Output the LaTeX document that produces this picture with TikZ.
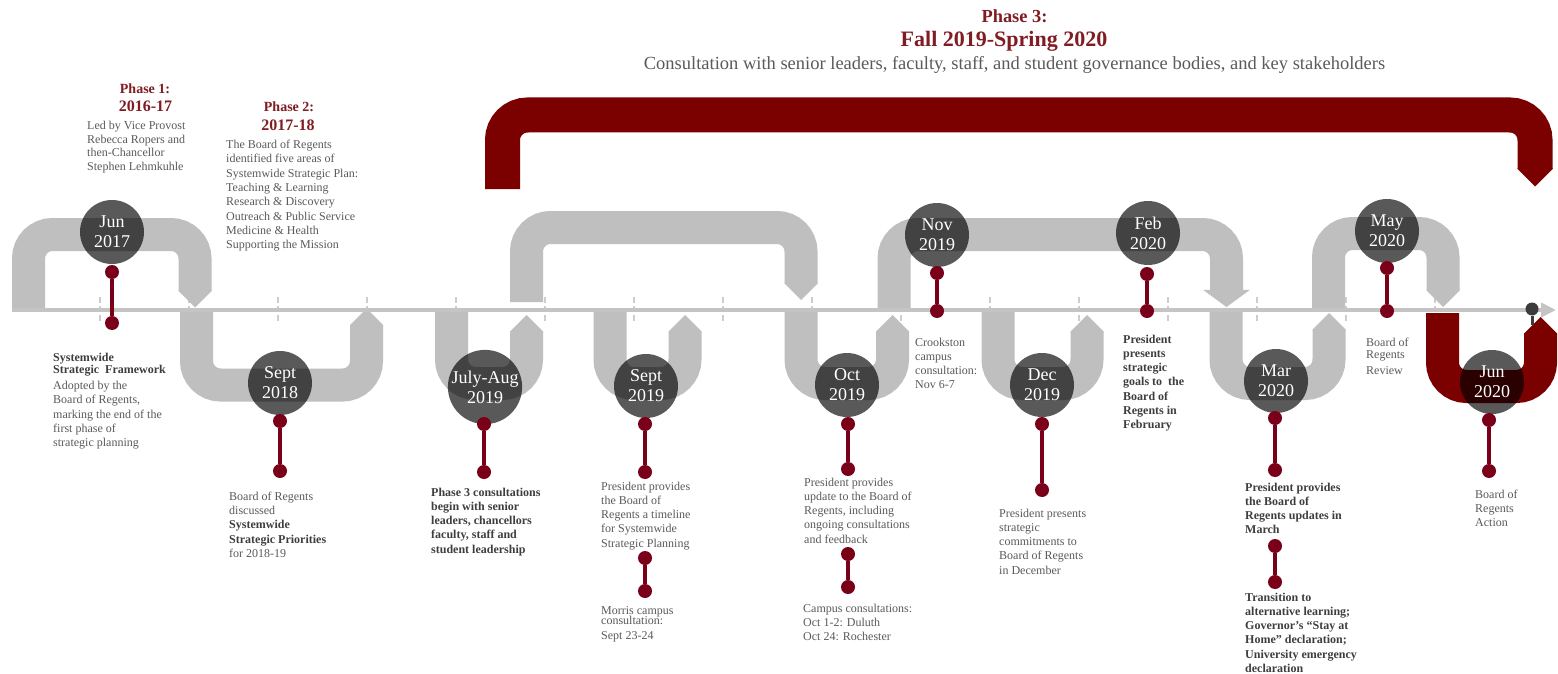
\documentclass[tikz,border=0pt]{standalone}
\usepackage{fontspec}
\setmainfont{Liberation Serif}
\usetikzlibrary{arrows.meta}

\definecolor{bandgray}{HTML}{BFBFBF}
\definecolor{linegray}{HTML}{C4C4C4}
\definecolor{tickgray}{HTML}{CDCDCD}
\definecolor{umnmaroon}{HTML}{7A0019}
\definecolor{bandred}{HTML}{7B0000}
\definecolor{titlered}{HTML}{801C22}
\definecolor{txtgray}{HTML}{5A5A5A}
\definecolor{txtdark}{HTML}{3E3E3E}
\definecolor{enddotgray}{HTML}{3C3C3C}

\newcommand\bodyf{\fontsize{12}{14.3}\selectfont}
\newcommand\datef{\fontsize{18}{20}\selectfont}

% arrow ends of the ribbon arms
\newcommand\chevdown[4]{\fill[#4] (#1-#3,#2-0.8) -- (#1+#3,#2-0.8) -- (#1+#3,#2) -- (#1,#2+#3) -- (#1-#3,#2) -- cycle;}
\newcommand\chevup[4]{\fill[#4] (#1-#3,#2+0.8) -- (#1+#3,#2+0.8) -- (#1+#3,#2) -- (#1,#2-#3) -- (#1-#3,#2) -- cycle;}

\begin{document}
\begin{tikzpicture}[x=1pt, y=-1pt,
  greyband/.style={draw=bandgray, line width=33pt, rounded corners=24pt},
  redband/.style={draw=bandred, line width=33pt, rounded corners=24pt},
  phasebracket/.style={draw=bandred, line width=35pt, rounded corners=25pt},
  timeline/.style={draw=linegray, line width=4.5pt, -{Triangle[length=15pt, width=14pt]}},
  tickmark/.style={draw=tickgray, line width=1.6pt, dash pattern=on 6pt off 3pt},
  datec/.style={circle, minimum size=64pt, inner sep=0pt, fill=black, fill opacity=0.65,
    text opacity=1, text=white, font=\datef, align=center},
  pinhead/.style={circle, fill=umnmaroon, minimum size=14pt, inner sep=0pt},
  stemline/.style={draw=umnmaroon, line width=4pt},
  txt/.style={anchor=north west, inner sep=0pt, align=left, font=\bodyf, text=txtgray},
  txtb/.style={txt, font=\bodyf\bfseries, text=txtdark},
  phasetitle/.style={anchor=base, inner sep=0pt, text=titlered},
]
\useasboundingbox (0,0) rectangle (1558,674);
\fill[white] (0,0) rectangle (1558,674);

% dashed tick marks along the time axis
\foreach \k in {0,...,15} {
  \draw[tickmark] (100+89*\k,297) -- (100+89*\k,323);
}

% grey serpentine ribbon
\draw[greyband] (28.5,310) -- (28.5,234.5) -- (195,234.5) -- (195,291);
\chevdown{195}{291}{16.5}{bandgray}
\draw[greyband] (196.5,310) -- (196.5,385) -- (366.5,385) -- (366.5,325);
\chevup{366.5}{325}{16.5}{bandgray}
\draw[greyband] (451.5,310) -- (451.5,383.5) -- (526.5,383.5) -- (526.5,331.5);
\chevup{526.5}{331.5}{16.5}{bandgray}
\draw[greyband] (526.5,302) -- (526.5,227.5) -- (801,227.5) -- (801,283.5);
\chevdown{801}{283.5}{16.5}{bandgray}
\draw[greyband] (610,310) -- (610,383.5) -- (685,383.5) -- (685,331.5);
\chevup{685}{331.5}{16.5}{bandgray}
\draw[greyband] (801,310) -- (801,383.5) -- (892.5,383.5) -- (892.5,331.5);
\chevup{892.5}{331.5}{16.5}{bandgray}
\draw[greyband] (894,310) -- (894,234.5) -- (1226.5,234.5) -- (1226.5,290.5);
\fill[bandgray] (1203,289.8) -- (1250,289.8) -- (1226.5,307) -- cycle;
\draw[greyband] (998,310) -- (998,383.5) -- (1087,383.5) -- (1087,331.5);
\chevup{1087}{331.5}{16.5}{bandgray}
\draw[greyband] (1226,310) -- (1226,383.5) -- (1329,383.5) -- (1329,329.5);
\chevup{1329}{329.5}{16.5}{bandgray}
\draw[greyband] (1328.5,310) -- (1328.5,233.5) -- (1443,233.5) -- (1443,290.5);
\chevdown{1443}{290.5}{16.5}{bandgray}

% final red loop and the Phase 3 bracket
\draw[redband] (1442.5,313) -- (1442.5,386.5) -- (1540.5,386.5) -- (1540.5,333.5);
\chevup{1540.5}{333.5}{16.5}{bandred}
\draw[phasebracket] (502.5,189) -- (502.5,115) -- (1535,115) -- (1535,169);
\chevdown{1535}{169}{17.5}{bandred}

% time axis
\coordinate (tlstart) at (12,310);
\coordinate (tlend) at (1556,310);
\draw[timeline] (tlstart) -- (tlend);
\node[circle, fill=enddotgray, minimum size=13pt, inner sep=0pt] (enddot) at (1532,309) {};
\coordinate (endfoot) at (1532,325);
\draw[enddotgray, line width=3pt] (enddot) -- (endfoot);

% date discs
\node[datec] (jun17) at (112,232) {Jun\\2017};
\node[datec] (sep18) at (280,383) {Sept\\2018};
\node[datec] (jul19) at (485,387) {July-Aug\\2019};
\node[datec] (sep19) at (646,386) {Sept\\2019};
\node[datec] (oct19) at (847,385) {Oct\\2019};
\node[datec] (nov19) at (937,235) {Nov\\2019};
\node[datec] (dec19) at (1042,385) {Dec\\2019};
\node[datec] (feb20) at (1148,233) {Feb\\2020};
\node[datec] (mar20) at (1276,381) {Mar\\2020};
\node[datec] (may20) at (1387,231) {May\\2020};
\node[datec] (jun20) at (1492,382) {Jun\\2020};

% maroon pins
\node[pinhead] (p1a) at (112,272) {};   \node[pinhead] (p1b) at (112,323) {};
\node[pinhead] (p2a) at (280,421) {};   \node[pinhead] (p2b) at (280,471) {};
\node[pinhead] (p3a) at (484,424) {};   \node[pinhead] (p3b) at (484,472) {};
\node[pinhead] (p4a) at (645,424) {};   \node[pinhead] (p4b) at (645,472) {};
\node[pinhead] (p4c) at (645,558) {};   \node[pinhead] (p4d) at (645,591) {};
\node[pinhead] (p5a) at (848,424) {};   \node[pinhead] (p5b) at (848,469) {};
\node[pinhead] (p5c) at (848,554) {};   \node[pinhead] (p5d) at (848,587) {};
\node[pinhead] (p6a) at (937,273) {};   \node[pinhead] (p6b) at (937,311) {};
\node[pinhead] (p7a) at (1042,424) {};  \node[pinhead] (p7b) at (1042,490) {};
\node[pinhead] (p8a) at (1147,274) {};  \node[pinhead] (p8b) at (1147,311) {};
\node[pinhead] (p9a) at (1275,418) {};  \node[pinhead] (p9b) at (1275,470) {};
\node[pinhead] (p9c) at (1275,546) {};  \node[pinhead] (p9d) at (1275,582) {};
\node[pinhead] (p10a) at (1387,268) {}; \node[pinhead] (p10b) at (1387,311) {};
\node[pinhead] (p11a) at (1489,420) {}; \node[pinhead] (p11b) at (1489,471) {};
\foreach \a/\b in {p1a/p1b, p2a/p2b, p3a/p3b, p4a/p4b, p4c/p4d, p5a/p5b, p5c/p5d,
                   p6a/p6b, p7a/p7b, p8a/p8b, p9a/p9b, p9c/p9d, p10a/p10b, p11a/p11b} {
  \draw[stemline] (\a) -- (\b);
}

% phase headings
\node[phasetitle, font=\fontsize{14}{16}\selectfont\bfseries] (ph1) at (145,94) {Phase 1:};
\node[phasetitle, font=\fontsize{16}{18}\selectfont\bfseries] (ph1y) at (145.5,112) {2016-17};
\node[phasetitle, font=\fontsize{14}{16}\selectfont\bfseries] (ph2) at (289,112) {Phase 2:};
\node[phasetitle, font=\fontsize{16}{18}\selectfont\bfseries] (ph2y) at (288,131) {2017-18};
\node[phasetitle, font=\fontsize{18.4}{20}\selectfont\bfseries] (ph3) at (1014.5,23) {Phase 3:};
\node[phasetitle, font=\fontsize{22}{24}\selectfont\bfseries] (ph3y) at (1004,47) {Fall 2019-Spring 2020};
\node[phasetitle, font=\fontsize{18.5}{20}\selectfont, text=txtgray] (ph3d) at (1014.5,70)
  {Consultation with senior leaders, faculty, staff, and student governance bodies, and key stakeholders};

% descriptions
\node[txt, font=\fontsize{12}{13.5}\selectfont] (d1) at (87,121)
  {Led by Vice Provost\\Rebecca Ropers and\\then-Chancellor\\Stephen Lehmkuhle};
\node[txt] (d2) at (226,140)
  {The Board of Regents\\identified five areas of\\Systemwide Strategic Plan:\\Teaching \& Learning\\Research \& Discovery\\Outreach \& Public Service\\Medicine \& Health\\Supporting the Mission};
\node[txt] (d3) at (53,352.5)
  {\textbf{\color{txtdark}Systemwide}\\[-2pt]\textbf{\color{txtdark}Strategic\enspace Framework}\\[2pt]Adopted by the\\Board of Regents,\\marking the end of the\\first phase of\\strategic planning};
\node[txt] (d4) at (229,491.5)
  {Board of Regents\\discussed\\\textbf{\color{txtdark}Systemwide}\\\textbf{\color{txtdark}Strategic Priorities}\\for 2018-19};
\node[txtb] (d5) at (431,487.5)
  {Phase 3 consultations\\begin with senior\\leaders, chancellors\\faculty, staff and\\student leadership};
\node[txt] (d6) at (601,481.5)
  {President provides\\the Board of\\Regents a timeline\\for Systemwide\\Strategic Planning};
\node[txt] (d7) at (601,606.5)
  {Morris campus\\[-4pt]consultation:\\Sept 23-24};
\node[txt] (d8) at (804,477.5)
  {President provides\\update to the Board of\\Regents, including\\ongoing consultations\\and feedback};
\node[txt] (d9) at (803,603.5)
  {Campus consultations:\\Oct 1-2: Duluth\\Oct 24: Rochester};
\node[txt] (d10) at (915,337.5)
  {Crookston\\campus\\consultation:\\Nov 6-7};
\node[txt] (d11) at (999,508.5)
  {President presents\\strategic\\commitments to\\Board of Regents\\in December};
\node[txtb] (d12) at (1123,334.5)
  {President\\presents\\strategic\\goals to\enspace the\\Board of\\Regents in\\February};
\node[txt] (d13) at (1366,337.5)
  {Board of\\[-1.5pt]Regents\\[1.5pt]Review};
\node[txtb] (d14) at (1245,482.5)
  {President provides\\the Board of\\Regents updates in\\March};
\node[txtb] (d15) at (1245,592.5)
  {Transition to\\alternative learning;\\Governor’s “Stay at\\Home” declaration;\\University emergency\\declaration};
\node[txt] (d16) at (1475,489.5)
  {Board of\\Regents\\Action};
\end{tikzpicture}
\end{document}
